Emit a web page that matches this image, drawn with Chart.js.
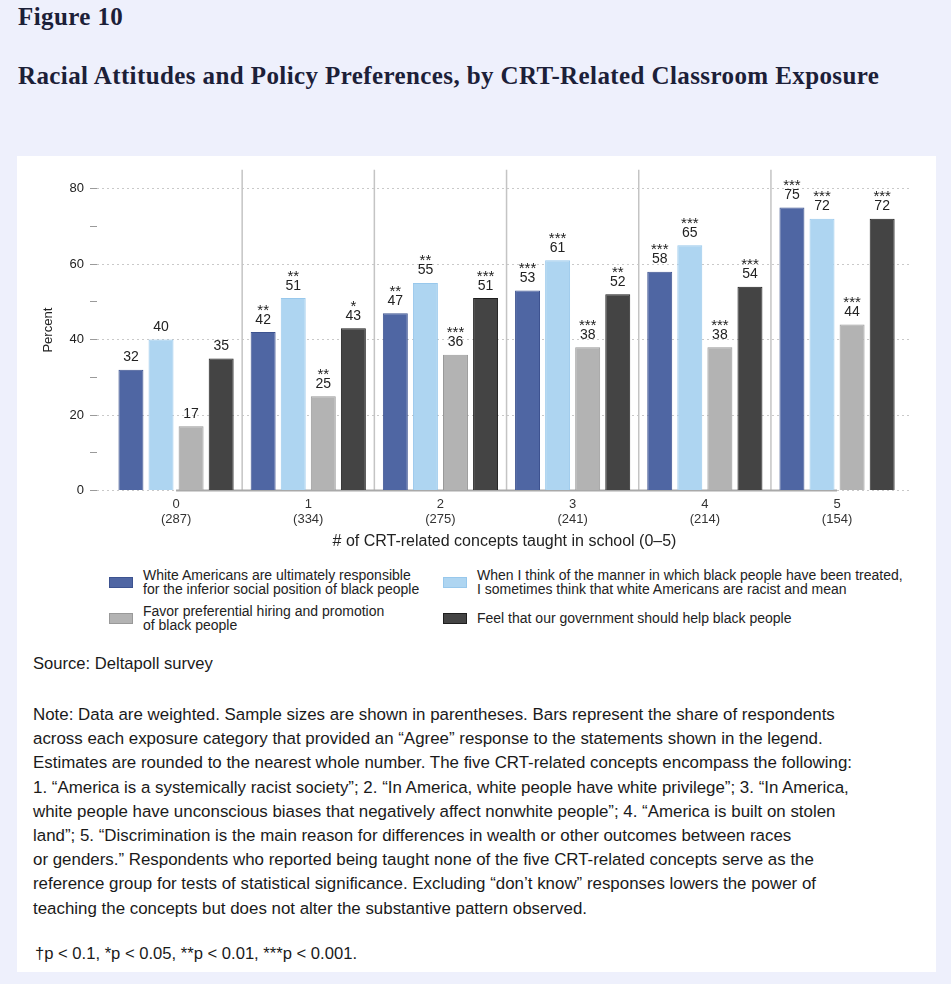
<!DOCTYPE html>
<html>
<head>
<meta charset="utf-8">
<script src="https://cdn.jsdelivr.net/npm/chart.js@4.4.1/dist/chart.umd.min.js"></script>
<style>
  body { margin: 0; width: 951px; height: 984px; background: #eef0fc; position: relative; overflow: hidden;
         font-family: "Liberation Sans", Arial, sans-serif; color: #222; }
  .serif { position: absolute; left: 18px; font-family: "Liberation Serif", "Times New Roman", serif; font-weight: bold; color: #1c2038; white-space: nowrap; }
  #fig { top: 3px; font-size: 25px; line-height: 28px; letter-spacing: 0.4px; }
  #title { top: 61px; font-size: 25px; line-height: 30px; letter-spacing: 0.4px; }
  #panel { position: absolute; left: 17px; top: 156px; width: 919px; height: 816px; background: #fff; }
  #chartBox { position: absolute; left: 17px; top: 156px; width: 919px; height: 400px; }
  .leg { position: absolute; display: flex; align-items: center; font-size: 14px; line-height: 14px; white-space: nowrap; color: #222; }
  .leg .sw { width: 22px; height: 9px; margin-right: 10px; border: 1px solid; flex: none; }
  .txt { position: absolute; left: 33px; font-size: 16.9px; white-space: nowrap; color: #1a1a1a; }
  #source { top: 653px; line-height: 22px; font-size: 16.6px; }
  #note { top: 703px; line-height: 24.2px; }
  #foot { top: 942px; left: 35px; line-height: 24px; font-size: 16.6px; }
</style>
</head>
<body>
<div class="serif" id="fig">Figure 10</div>
<div class="serif" id="title">Racial Attitudes and Policy Preferences, by CRT-Related Classroom Exposure</div>
<div id="panel"></div>
<div id="chartBox"><canvas id="crtChart"></canvas></div>
<div id="legend"></div>
<div class="txt" id="source">Source: Deltapoll survey</div>
<div class="txt" id="note">
Note: Data are weighted. Sample sizes are shown in parentheses. Bars represent the share of respondents<br>
across each exposure category that provided an “Agree” response to the statements shown in the legend.<br>
Estimates are rounded to the nearest whole number. The five CRT-related concepts encompass the following:<br>
1. “America is a systemically racist society”; 2. “In America, white people have white privilege”; 3. “In America,<br>
white people have unconscious biases that negatively affect nonwhite people”; 4. “America is built on stolen<br>
land”; 5. “Discrimination is the main reason for differences in wealth or other outcomes between races<br>
or genders.” Respondents who reported being taught none of the five CRT-related concepts serve as the<br>
reference group for tests of statistical significance. Excluding “don’t know” responses lowers the power of<br>
teaching the concepts but does not alter the substantive pattern observed.
</div>
<div class="txt" id="foot">†p &lt; 0.1, *p &lt; 0.05, **p &lt; 0.01, ***p &lt; 0.001.</div>

<script>
const groups = ['0', '1', '2', '3', '4', '5'];
const sampleSizes = [287, 334, 275, 241, 214, 154];

const blameWhites = [32, 42, 47, 53, 58, 75];
const racistMean = [40, 51, 55, 61, 65, 72];
const prefHiring = [17, 25, 36, 38, 38, 44];
const govHelp = [35, 43, 51, 52, 54, 72];

const blameStars = ['', '**', '**', '***', '***', '***'];
const racistStars = ['', '**', '**', '***', '***', '***'];
const hiringStars = ['', '**', '***', '***', '***', '***'];
const helpStars = ['', '*', '***', '**', '***', '***'];

const yTicks = [0, 10, 20, 30, 40, 50, 60, 70, 80];
const yLabeled = [0, 20, 40, 60, 80];

const seriesLabels = [
    ['White Americans are ultimately responsible', 'for the inferior social position of black people'],
    ['When I think of the manner in which black people have been treated,', 'I sometimes think that white Americans are racist and mean'],
    ['Favor preferential hiring and promotion', 'of black people'],
    ['Feel that our government should help black people']
];

const series = [blameWhites, racistMean, prefHiring, govHelp];
const stars = [blameStars, racistStars, hiringStars, helpStars];
const fills = ['#4f66a3', '#aed5f1', '#b3b3b3', '#444444'];
const edges = ['#3d5390', '#98c8ec', '#999999', '#1e1e1e'];

Chart.defaults.font.family = '"Liberation Sans", Arial, sans-serif';
Chart.defaults.color = '#222';

// separators, baseline and the value/star labels
const overlayPlugin = {
    id: 'overlay',
    beforeDatasetsDraw(chart) {
        const { ctx, chartArea, scales: { x, y } } = chart;
        const y0 = y.getPixelForValue(0);
        ctx.save();
        ctx.strokeStyle = '#c4c4c4';
        ctx.lineWidth = 1.5;
        for (let i = 0; i < groups.length - 1; i++) {
            const px = x.getPixelForValue(i + 0.5);
            ctx.beginPath();
            ctx.moveTo(px, chartArea.top);
            ctx.lineTo(px, y0);
            ctx.stroke();
        }
        ctx.strokeStyle = '#a9a9a9';
        ctx.lineWidth = 2;
        ctx.beginPath();
        ctx.moveTo(x.getPixelForValue(0), y0);
        ctx.lineTo(x.getPixelForValue(groups.length - 1), y0);
        ctx.stroke();
        ctx.restore();
    },
    afterDatasetsDraw(chart) {
        const ctx = chart.ctx;
        ctx.save();
        ctx.fillStyle = '#222';
        ctx.textAlign = 'center';
        ctx.textBaseline = 'alphabetic';
        chart.data.datasets.forEach((ds, d) => {
            chart.getDatasetMeta(d).data.forEach((bar, i) => {
                ctx.font = '14px "Liberation Sans", Arial, sans-serif';
                ctx.fillText(String(series[d][i]), bar.x, bar.y - 8.5);
                if (stars[d][i]) {
                    ctx.font = '15px "Liberation Sans", Arial, sans-serif';
                    ctx.fillText(stars[d][i], bar.x, bar.y - 17.5);
                }
            });
        });
        ctx.restore();
    }
};

const datasets = series.map((vals, d) => ({
    label: seriesLabels[d].join(' '),
    data: vals.map((v, i) => ({ x: i, y: v })),
    backgroundColor: fills[d],
    borderColor: edges[d],
    borderWidth: 1,
    categoryPercentage: 0.91,
    barPercentage: 0.83
}));

new Chart(document.getElementById('crtChart'), {
    type: 'bar',
    data: { datasets },
    options: {
        responsive: true,
        maintainAspectRatio: false,
        animation: false,
        layout: { padding: { left: 0, right: 24, top: 11, bottom: 0 } },
        plugins: { legend: { display: false }, tooltip: { enabled: false } },
        scales: {
            x: {
                type: 'linear',
                offset: false,
                min: -0.598,
                max: 5.567,
                afterBuildTicks: (s) => { s.ticks = groups.map((g, i) => ({ value: i })); },
                afterFit: (s) => { s.height = 65.5; },
                grid: { display: false, drawTicks: false },
                border: { display: false },
                ticks: {
                    padding: 6,
                    font: { size: 13 },
                    color: '#333',
                    callback: (v) => [groups[v], '(' + sampleSizes[v] + ')']
                },
                title: {
                    display: true,
                    text: '# of CRT-related concepts taught in school (0–5)',
                    font: { size: 16 },
                    color: '#222',
                    padding: { top: 0, bottom: 4.7 }
                }
            },
            y: {
                min: 0,
                max: 85,
                afterBuildTicks: (s) => { s.ticks = yTicks.map(v => ({ value: v })); },
                afterFit: (s) => { s.width = 80; },
                border: { display: false, dash: [2, 3] },
                grid: {
                    color: (c) => (c.tick && yLabeled.includes(c.tick.value)) ? '#c9c9c9' : 'rgba(0,0,0,0)',
                    tickColor: '#9a9a9a',
                    tickLength: 7,
                    tickBorderDash: []
                },
                ticks: {
                    padding: 6,
                    font: { size: 13 },
                    color: '#222',
                    callback: (v) => yLabeled.includes(v) ? String(v) : ''
                },
                title: {
                    display: true,
                    text: 'Percent',
                    font: { size: 13 },
                    color: '#222',
                    padding: { top: 23.2, bottom: 0 }
                }
            }
        }
    },
    plugins: [overlayPlugin]
});

// legend laid out as in the figure: two columns, two rows
const legendPos = [
    { left: 109, top: 568 }, { left: 443, top: 568 },
    { left: 109, top: 604 }, { left: 443, top: 611 }
];
const legendEl = document.getElementById('legend');
seriesLabels.forEach((lines, d) => {
    const item = document.createElement('div');
    item.className = 'leg';
    item.style.left = legendPos[d].left + 'px';
    item.style.top = legendPos[d].top + 'px';
    item.innerHTML = `<div class="sw" style="background:${fills[d]};border-color:${edges[d]}"></div><div>${lines.join('<br>')}</div>`;
    legendEl.appendChild(item);
});
</script>
</body>
</html>
